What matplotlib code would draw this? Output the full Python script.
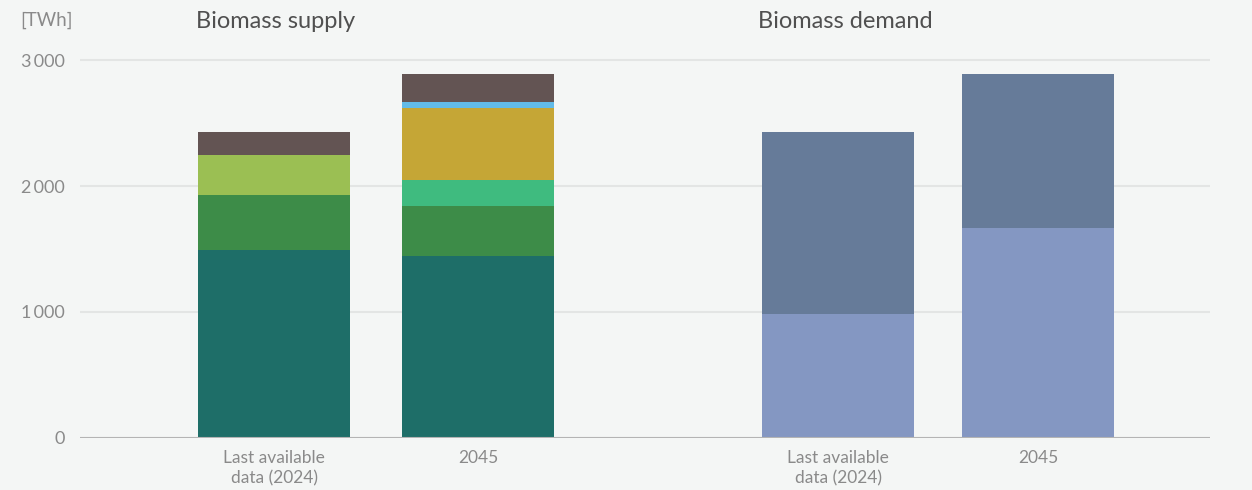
import numpy as np
import matplotlib.pyplot as plt

plt.rcParams['font.family'] = ['Lato', 'DejaVu Sans']

# data (TWh)
categories = ["Last available\ndata (2024)", "2045"]
supply_names = ["Forest", "Agriculture", "Residues", "Energy crops", "Algae", "Waste", "Other"]
supply_colors = ["#1e6e68", "#3d8c48", "#9bbf53", "#3fbb7f", "#c5a636", "#62bbe8", "#635453"]
supply_2024 = [1492, 437, 318, 0, 0, 0, 183]
supply_2045 = [1444, 396, 0, 208, 573, 48, 222]

demand_colors = ["#8497c2", "#667b99"]
demand_low = [983, 1667]
demand_high = [1447, 1224]

yticks = [0, 1000, 2000, 3000]
ytick_labels = ["0", "1\u2009000", "2\u2009000", "3\u2009000"]

bg = "#f4f6f5"
txt = "#8a8a8a"

fig = plt.figure(figsize=(12.52, 4.9), dpi=100, facecolor=bg)
ax = fig.add_axes([80/1252, 1-437.7/490, 1130/1252, (3100*0.1258)/490])
ax.set_facecolor(bg)

pos_supply = np.array([0, 1.0])
pos_demand = np.array([2.765, 3.745])
w = 0.745

bottom = np.zeros(2)
for i in range(len(supply_names)):
    vals = np.array([supply_2024[i], supply_2045[i]])
    ax.bar(pos_supply, vals, w, bottom=bottom, color=supply_colors[i], zorder=3)
    bottom += vals

ax.bar(pos_demand, demand_low, w, color=demand_colors[0], zorder=3)
ax.bar(pos_demand, demand_high, w, bottom=demand_low, color=demand_colors[1], zorder=3)

ax.set_xlim(-0.951, 4.588)
ax.set_ylim(0, 3100)
ax.set_yticks(yticks)
ax.set_yticklabels(ytick_labels)
ax.set_xticks(np.concatenate([pos_supply, pos_demand]))
ax.set_xticklabels(categories * 2, linespacing=1.3)
ax.tick_params(axis='both', length=0, colors=txt, labelsize=13)
ax.tick_params(axis='x', labelsize=12.5, pad=9)
ax.tick_params(axis='y', pad=11)

for s in ax.spines.values():
    s.set_visible(False)
ax.grid(axis='y', color="#e3e5e4", lw=1.5, zorder=0)
ax.axhline(0, color="#b4b4b4", lw=1.5, zorder=4)

fig.text(20/1252, 1-20/490, "[TWh]", color=txt, fontsize=13.5, va='center', ha='left')
fig.text(276/1252, 1-21/490, "Biomass supply", color="#505050", fontsize=17, va='center', ha='center')
fig.text(845/1252, 1-21/490, "Biomass demand", color="#505050", fontsize=17, va='center', ha='center')

fig.savefig("out.png", dpi=100, facecolor=bg)
